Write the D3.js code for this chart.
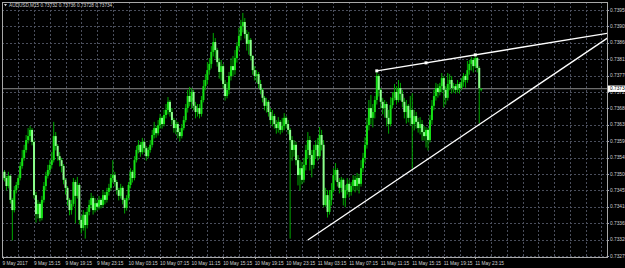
<!DOCTYPE html>
<html><head><meta charset="utf-8">
<script src="https://cdn.jsdelivr.net/npm/d3@7"></script>
<style>html,body{margin:0;padding:0;background:#000;}svg{display:block;}</style>
</head><body>
<svg id="c" width="625" height="268"></svg>
<script>
// ---- DATA (AUDUSD, M15) ----
const symbol = "AUDUSD,M15";
const lastBar = {open:0.73732, high:0.73736, low:0.73728, close:0.73734};
const timeLabels = ["9 May 2017","9 May 15:15","9 May 19:15","9 May 23:15","10 May 03:15","10 May 07:15","10 May 11:15","10 May 15:15","10 May 19:15","10 May 23:15","11 May 03:15","11 May 07:15","11 May 11:15","11 May 15:15","11 May 19:15","11 May 23:15"];
const timeLabelBars = [0,16,32,48,64,80,96,112,128,144,160,176,192,208,224,240];
const priceTicks = [0.73275,0.73320,0.73365,0.73410,0.73455,0.73500,0.73545,0.73590,0.73635,0.73680,0.73725,0.73770,0.73815,0.73860,0.73905,0.73950];

const open = [0.73484,0.73506,0.73489,0.73467,0.73495,0.73429,0.73401,0.73456,0.73470,0.73489,0.73522,0.73544,0.73566,0.73593,0.73604,0.73621,0.73588,0.73442,0.73390,0.73418,
0.73379,0.73429,0.73467,0.73495,0.73511,0.73525,0.73538,0.73604,0.73577,0.73549,0.73538,0.73522,0.73484,0.73462,0.73429,0.73401,0.73418,0.73478,0.73440,0.73470,
0.73374,0.73352,0.73388,0.73360,0.73396,0.73415,0.73434,0.73401,0.73420,0.73410,0.73429,0.73415,0.73442,0.73429,0.73451,0.73462,0.73489,0.73497,0.73478,0.73456,
0.73440,0.73462,0.73429,0.73407,0.73434,0.73470,0.73506,0.73489,0.73538,0.73566,0.73580,0.73560,0.73588,0.73571,0.73549,0.73566,0.73580,0.73607,0.73626,0.73612,
0.73634,0.73654,0.73637,0.73662,0.73676,0.73698,0.73670,0.73648,0.73626,0.73637,0.73615,0.73604,0.73626,0.73648,0.73681,0.73714,0.73698,0.73725,0.73687,0.73670,
0.73681,0.73665,0.73703,0.73741,0.73758,0.73785,0.73802,0.73835,0.73862,0.73840,0.73807,0.73780,0.73796,0.73747,0.73714,0.73731,0.73769,0.73796,0.73785,0.73818,
0.73851,0.73879,0.73906,0.73917,0.73884,0.73857,0.73868,0.73824,0.73785,0.73769,0.73774,0.73747,0.73731,0.73709,0.73687,0.73698,0.73670,0.73648,0.73659,0.73637,
0.73626,0.73643,0.73621,0.73632,0.73654,0.73637,0.73621,0.73593,0.73566,0.73580,0.73538,0.73497,0.73516,0.73484,0.73525,0.73566,0.73593,0.73552,0.73525,0.73566,
0.73580,0.73549,0.73607,0.73580,0.73415,0.73442,0.73396,0.73429,0.73456,0.73497,0.73511,0.73478,0.73462,0.73484,0.73434,0.73456,0.73473,0.73451,0.73467,0.73484,
0.73467,0.73489,0.73473,0.73516,0.73544,0.73580,0.73634,0.73681,0.73654,0.73670,0.73703,0.73769,0.73731,0.73698,0.73681,0.73692,0.73654,0.73637,0.73689,0.73709,
0.73725,0.73703,0.73736,0.73720,0.73698,0.73670,0.73687,0.73654,0.73676,0.73637,0.73659,0.73643,0.73626,0.73637,0.73615,0.73604,0.73621,0.73593,0.73648,0.73687,
0.73714,0.73736,0.73725,0.73741,0.73763,0.73731,0.73709,0.73747,0.73758,0.73736,0.73741,0.73731,0.73747,0.73736,0.73752,0.73769,0.73758,0.73785,0.73802,0.73813,
0.73796,0.73818,0.73791,0.73732];
const high = [0.73516,0.73511,0.73495,0.73506,0.73497,0.73434,0.73467,0.73478,0.73497,0.73533,0.73566,0.73580,0.73607,0.73626,0.73632,0.73626,0.73593,0.73451,0.73429,0.73423,
0.73440,0.73478,0.73506,0.73525,0.73538,0.73560,0.73643,0.73615,0.73582,0.73560,0.73544,0.73527,0.73489,0.73467,0.73434,0.73429,0.73489,0.73484,0.73492,0.73475,
0.73385,0.73401,0.73396,0.73407,0.73429,0.73448,0.73440,0.73434,0.73429,0.73440,0.73434,0.73456,0.73451,0.73462,0.73473,0.73500,0.73538,0.73506,0.73484,0.73462,
0.73473,0.73467,0.73434,0.73442,0.73478,0.73516,0.73511,0.73549,0.73577,0.73593,0.73588,0.73599,0.73593,0.73577,0.73574,0.73593,0.73621,0.73643,0.73632,0.73648,
0.73665,0.73659,0.73676,0.73692,0.73711,0.73703,0.73681,0.73654,0.73648,0.73643,0.73626,0.73637,0.73659,0.73692,0.73731,0.73739,0.73736,0.73731,0.73698,0.73692,
0.73692,0.73714,0.73758,0.73774,0.73807,0.73818,0.73851,0.73887,0.73873,0.73846,0.73818,0.73813,0.73802,0.73758,0.73752,0.73780,0.73818,0.73824,0.73840,0.73862,
0.73901,0.73923,0.73942,0.73928,0.73895,0.73890,0.73873,0.73826,0.73796,0.73785,0.73780,0.73758,0.73736,0.73714,0.73709,0.73703,0.73681,0.73676,0.73665,0.73648,
0.73656,0.73648,0.73654,0.73667,0.73659,0.73648,0.73626,0.73604,0.73593,0.73588,0.73552,0.73538,0.73533,0.73544,0.73580,0.73615,0.73604,0.73566,0.73580,0.73593,
0.73599,0.73629,0.73621,0.73593,0.73462,0.73456,0.73456,0.73475,0.73516,0.73530,0.73516,0.73489,0.73492,0.73488,0.73470,0.73489,0.73484,0.73478,0.73497,0.73495,
0.73503,0.73500,0.73538,0.73558,0.73601,0.73654,0.73703,0.73717,0.73692,0.73714,0.73783,0.73774,0.73736,0.73709,0.73703,0.73698,0.73676,0.73711,0.73725,0.73747,
0.73741,0.73758,0.73750,0.73731,0.73709,0.73703,0.73692,0.73714,0.73722,0.73676,0.73670,0.73654,0.73656,0.73648,0.73632,0.73629,0.73626,0.73662,0.73703,0.73731,
0.73750,0.73747,0.73750,0.73777,0.73769,0.73741,0.73777,0.73774,0.73769,0.73750,0.73747,0.73758,0.73752,0.73763,0.73777,0.73774,0.73810,0.73813,0.73821,0.73818,
0.73827,0.73821,0.73796,0.73736];
const low = [0.73475,0.73481,0.73456,0.73462,0.73420,0.73319,0.73396,0.73448,0.73462,0.73484,0.73516,0.73538,0.73560,0.73585,0.73593,0.73580,0.73434,0.73368,0.73379,0.73371,
0.73374,0.73423,0.73456,0.73489,0.73500,0.73516,0.73533,0.73566,0.73538,0.73522,0.73506,0.73473,0.73445,0.73415,0.73388,0.73390,0.73412,0.73366,0.73434,0.73363,
0.73338,0.73346,0.73324,0.73352,0.73388,0.73407,0.73390,0.73396,0.73401,0.73404,0.73407,0.73410,0.73418,0.73423,0.73442,0.73456,0.73478,0.73467,0.73445,0.73429,
0.73434,0.73418,0.73393,0.73401,0.73429,0.73462,0.73478,0.73484,0.73533,0.73558,0.73549,0.73555,0.73560,0.73538,0.73544,0.73560,0.73574,0.73599,0.73601,0.73607,
0.73626,0.73626,0.73632,0.73654,0.73665,0.73659,0.73637,0.73615,0.73610,0.73599,0.73591,0.73599,0.73621,0.73643,0.73670,0.73687,0.73681,0.73676,0.73654,0.73659,
0.73654,0.73659,0.73698,0.73731,0.73747,0.73774,0.73791,0.73824,0.73818,0.73796,0.73763,0.73758,0.73736,0.73703,0.73709,0.73720,0.73758,0.73769,0.73774,0.73807,
0.73840,0.73868,0.73890,0.73873,0.73840,0.73829,0.73813,0.73774,0.73758,0.73752,0.73736,0.73720,0.73698,0.73676,0.73670,0.73659,0.73637,0.73632,0.73626,0.73612,
0.73615,0.73610,0.73615,0.73621,0.73626,0.73610,0.73324,0.73538,0.73549,0.73525,0.73470,0.73456,0.73473,0.73478,0.73511,0.73544,0.73511,0.73492,0.73516,0.73544,
0.73538,0.73544,0.73566,0.73410,0.73412,0.73382,0.73390,0.73415,0.73451,0.73484,0.73467,0.73448,0.73451,0.73415,0.73410,0.73445,0.73437,0.73442,0.73456,0.73451,
0.73456,0.73448,0.73467,0.73506,0.73533,0.73571,0.73621,0.73637,0.73629,0.73654,0.73692,0.73714,0.73681,0.73665,0.73656,0.73632,0.73612,0.73632,0.73681,0.73703,
0.73692,0.73698,0.73703,0.73684,0.73654,0.73640,0.73643,0.73634,0.73516,0.73621,0.73626,0.73615,0.73610,0.73593,0.73593,0.73574,0.73566,0.73588,0.73637,0.73676,
0.73703,0.73711,0.73717,0.73725,0.73684,0.73692,0.73703,0.73731,0.73722,0.73725,0.73722,0.73725,0.73722,0.73731,0.73741,0.73738,0.73752,0.73774,0.73785,0.73780,
0.73791,0.73780,0.73640,0.73728];
const close = [0.73506,0.73489,0.73467,0.73495,0.73429,0.73401,0.73456,0.73470,0.73489,0.73522,0.73544,0.73566,0.73593,0.73604,0.73621,0.73588,0.73442,0.73390,0.73418,0.73379,
0.73429,0.73467,0.73495,0.73511,0.73525,0.73538,0.73604,0.73577,0.73549,0.73538,0.73522,0.73484,0.73462,0.73429,0.73401,0.73418,0.73478,0.73440,0.73470,0.73374,
0.73352,0.73388,0.73360,0.73396,0.73415,0.73434,0.73401,0.73420,0.73410,0.73429,0.73415,0.73442,0.73429,0.73451,0.73462,0.73489,0.73497,0.73478,0.73456,0.73440,
0.73462,0.73429,0.73407,0.73434,0.73470,0.73506,0.73489,0.73538,0.73566,0.73580,0.73560,0.73588,0.73571,0.73549,0.73566,0.73580,0.73607,0.73626,0.73612,0.73634,
0.73654,0.73637,0.73662,0.73676,0.73698,0.73670,0.73648,0.73626,0.73637,0.73615,0.73604,0.73626,0.73648,0.73681,0.73714,0.73698,0.73725,0.73687,0.73670,0.73681,
0.73665,0.73703,0.73741,0.73758,0.73785,0.73802,0.73835,0.73862,0.73840,0.73807,0.73780,0.73796,0.73747,0.73714,0.73731,0.73769,0.73796,0.73785,0.73818,0.73851,
0.73879,0.73906,0.73917,0.73884,0.73857,0.73868,0.73824,0.73785,0.73769,0.73774,0.73747,0.73731,0.73709,0.73687,0.73698,0.73670,0.73648,0.73659,0.73637,0.73626,
0.73643,0.73621,0.73632,0.73654,0.73637,0.73621,0.73593,0.73566,0.73580,0.73538,0.73497,0.73516,0.73484,0.73525,0.73566,0.73593,0.73552,0.73525,0.73566,0.73580,
0.73549,0.73607,0.73580,0.73415,0.73442,0.73396,0.73429,0.73456,0.73497,0.73511,0.73478,0.73462,0.73484,0.73434,0.73456,0.73473,0.73451,0.73467,0.73484,0.73467,
0.73489,0.73473,0.73516,0.73544,0.73580,0.73634,0.73681,0.73654,0.73670,0.73703,0.73769,0.73731,0.73698,0.73681,0.73692,0.73654,0.73637,0.73689,0.73709,0.73725,
0.73703,0.73736,0.73720,0.73698,0.73670,0.73687,0.73654,0.73676,0.73637,0.73659,0.73643,0.73626,0.73637,0.73615,0.73604,0.73621,0.73593,0.73648,0.73687,0.73714,
0.73736,0.73725,0.73741,0.73763,0.73731,0.73709,0.73747,0.73758,0.73736,0.73741,0.73731,0.73747,0.73736,0.73752,0.73769,0.73758,0.73785,0.73802,0.73813,0.73796,
0.73818,0.73791,0.73736,0.73734];

// trend lines: [barIndex, price] anchors
const upperTrend = [[190,0.73783],[240,0.73827]];
const upperTrendMid = [215,0.73805];
const lowerTrend = [[155,0.73319],[306,0.73869]];

// ---- DRAW ----
const W=625,H=268, L=2, T=2, R=607, B=257;
const svg=d3.select("#c");
svg.append("rect").attr("width",W).attr("height",H).attr("fill","#000");

const N = close.length;
const x = d3.scaleLinear().domain([0,N-1]).range([2.5,481.2]);
const y = d3.scaleLinear().domain([0.73275,0.73950]).range([256,10]);
const font = "'Liberation Sans', Arial, sans-serif";
const gridC = "#4a4e5c";
const fs = 4.8;

const defs = svg.append("defs");
defs.append("clipPath").attr("id","pc").append("rect").attr("x",L).attr("y",T).attr("width",R-L).attr("height",B-T);

const g = svg.append("g").attr("clip-path","url(#pc)");

// horizontal grid
g.selectAll("line.hg").data(priceTicks).join("line")
  .attr("x1",L).attr("x2",R).attr("y1",d=>Math.round(y(d))+0.5).attr("y2",d=>Math.round(y(d))+0.5)
  .attr("stroke",gridC).attr("stroke-width",1).attr("stroke-dasharray","2,2");
// vertical grid every 8 bars
const vg = d3.range(8, Math.ceil(x.invert(R)), 8);
g.selectAll("line.vg").data(vg).join("line")
  .attr("x1",d=>Math.round(x(d))+0.5).attr("x2",d=>Math.round(x(d))+0.5).attr("y1",T).attr("y2",B)
  .attr("stroke",gridC).attr("stroke-width",1).attr("stroke-dasharray","2,2");

// price line
g.append("line").attr("x1",L).attr("x2",R)
  .attr("y1",y(lastBar.close)).attr("y2",y(lastBar.close))
  .attr("stroke","#8c8c8c").attr("stroke-width",1);

// candles
const idx = d3.range(N);
g.selectAll("line.wick").data(idx).join("line")
  .attr("x1",i=>x(i)).attr("x2",i=>x(i))
  .attr("y1",i=>y(high[i])).attr("y2",i=>y(low[i])+0.5)
  .attr("stroke","#00a800").attr("stroke-width",1);
g.selectAll("rect.body").data(idx).join("rect")
  .attr("x",i=>x(i)-1).attr("width",2)
  .attr("y",i=>y(Math.max(open[i],close[i])))
  .attr("height",i=>Math.max(0.8, Math.abs(y(open[i])-y(close[i]))))
  .attr("fill",i=> close[i]>=open[i] ? "#14e014" : "#8dff8d");

// trend lines
const xEnd = x.invert(R+2);
function ext(a,b){ const s=(b[1]-a[1])/(b[0]-a[0]); return [[a[0],a[1]],[xEnd,a[1]+s*(xEnd-a[0])]]; }
const lineGen = d3.line().x(d=>x(d[0])).y(d=>y(d[1]));
g.append("path").attr("d",lineGen(ext(upperTrend[0],upperTrend[1]))).attr("stroke","#fff").attr("stroke-width",1.4).attr("fill","none");
g.append("path").attr("d",lineGen(ext(lowerTrend[0],lowerTrend[1]))).attr("stroke","#fff").attr("stroke-width",1.4).attr("fill","none");
g.selectAll("rect.mk").data([upperTrend[0],upperTrendMid,upperTrend[1]]).join("rect")
  .attr("x",d=>x(d[0])-1.5).attr("y",d=>y(d[1])-1.5).attr("width",3).attr("height",3).attr("fill","#fff");

// frame
svg.append("rect").attr("x",L+0.5).attr("y",T+0.5).attr("width",R-L).attr("height",B-T)
  .attr("fill","none").attr("stroke","#a8a8a8").attr("stroke-width",1);

// right axis labels
const ax = svg.append("g");
ax.selectAll("line.yt").data(priceTicks).join("line")
  .attr("x1",R).attr("x2",R+2).attr("y1",d=>Math.round(y(d))+0.5).attr("y2",d=>Math.round(y(d))+0.5)
  .attr("stroke","#a8a8a8");
ax.selectAll("text.yl").data(priceTicks).join("text")
  .attr("x",R+3).attr("y",d=>y(d)).attr("dy","0.35em")
  .attr("fill","#d0d0d0").attr("font-family",font).attr("font-size",fs)
  .text(d=>d3.format(".5f")(d));
// current price box
ax.append("rect").attr("x",R+1).attr("y",y(lastBar.close)-3.2).attr("width",W-R).attr("height",6.4).attr("fill","#fff");
ax.append("text").attr("x",R+3).attr("y",y(lastBar.close)).attr("dy","0.35em")
  .attr("fill","#000").attr("font-family",font).attr("font-size",fs).text(d3.format(".5f")(lastBar.close));

// bottom axis labels
ax.selectAll("line.xt").data(timeLabelBars).join("line")
  .attr("x1",i=>Math.round(x(i))+0.5).attr("x2",i=>Math.round(x(i))+0.5).attr("y1",B).attr("y2",B+2)
  .attr("stroke","#a8a8a8");
ax.selectAll("text.xl").data(timeLabels).join("text")
  .attr("x",(d,k)=>x(timeLabelBars[k])).attr("y",264.5)
  .attr("fill","#d0d0d0").attr("font-family",font).attr("font-size",fs)
  .text(d=>d);

// header
svg.append("path").attr("d","M4,4 L7,4 L5.5,6.2 Z").attr("fill","#d0d0d0");
svg.append("text").attr("x",9).attr("y",7).attr("fill","#d0d0d0").attr("font-family",font).attr("font-size",4.7)
  .text(`${symbol}  ${d3.format(".5f")(lastBar.open)} ${d3.format(".5f")(lastBar.high)} ${d3.format(".5f")(lastBar.low)} ${d3.format(".5f")(lastBar.close)}`);
</script>
</body></html>
